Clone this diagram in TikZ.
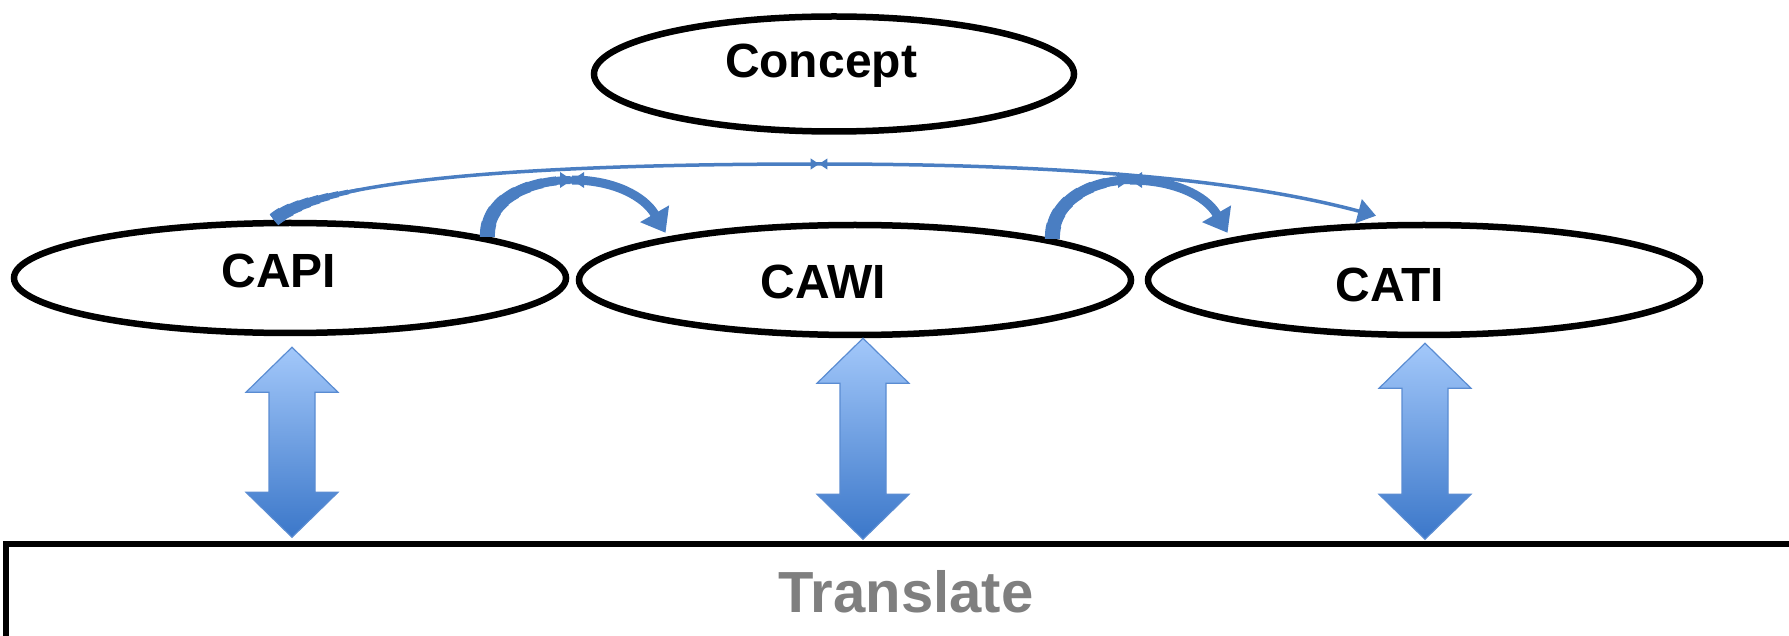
\documentclass[tikz,border=0pt]{standalone}
\usepackage{fontspec}
\setmainfont{Liberation Sans}
\usetikzlibrary{shapes.geometric,arrows.meta,calc,positioning}
\definecolor{flowblue}{HTML}{4A7EC2}
\definecolor{arrowtop}{HTML}{A3C8FA}
\definecolor{arrowbot}{HTML}{3B77C9}
\definecolor{arrowedge}{HTML}{5A8CD2}
\definecolor{labelgray}{HTML}{7F7F7F}

\begin{document}
\begin{tikzpicture}[x=1pt, y=-1pt,
  mode/.style={draw, ellipse, line width=6.5pt, inner sep=0pt, minimum width=552pt, minimum height=110pt},
  lbl/.style={font=\fontsize{48}{52}\selectfont\bfseries, inner sep=0pt, anchor=base},
  bar/.style={draw, line width=6.5pt, minimum width=1800pt, minimum height=96pt, text=labelgray, font=\fontsize{58}{62}\selectfont\bfseries},
  link/.style={draw=flowblue, line width=9pt},
  hair/.style={draw=flowblue, line width=3.5pt},
  headed/.style={-{Triangle[width=32pt,length=22pt]}},
  bow/.style={fill=flowblue},
  updown/.style={top color=arrowtop, bottom color=arrowbot, draw=arrowedge, line width=1.2pt, line join=miter}
]
\useasboundingbox (0,0) rectangle (1789,636);
\clip (0,0) rectangle (1789,636);

% modes and the shared concept
\node[mode, minimum width=480pt, minimum height=115pt] (concept) at (834,74) {};
\node[mode] (capi) at (290,278) {};
\node[mode] (cawi) at (855,280) {};
\node[mode] (cati) at (1424,280) {};
\node[lbl] (concept-l) at (821,78) {Concept};
\node[lbl] (capi-l) at (279,288) {CAPI};
\node[lbl] (cawi-l) at (823,299) {CAWI};
\node[lbl] (cati-l) at (1390,302) {CATI};

\node[bar] (trans) at (906,592) {Translate};

% up/down arrows to the translation layer
\foreach \m/\dx/\dy/\len in {capi/2/11/100,cawi/8/0/111,cati/1/5/106}
  \path[updown] ($(\m.south)+(\dx,\dy)$) -- ++(46,45) -- ++(-23,0) -- ++(0,\len) -- ++(23,0)
    -- ++(-46,45) -- ++(-46,-45) -- ++(23,0) -- ++(0,-\len) -- ++(-23,0) -- cycle;

% curved links between modes
\coordinate (k1) at (572,180);
\coordinate (k2) at (1130,180);
\coordinate (k0) at (819,164);
\coordinate (capi-top) at ($(capi.north)+(-16,0)$);
\coordinate (cati-top) at ($(cati.north)+(-48,-6)$);
\draw[hair] (capi-top) to[out=40,in=180,out looseness=0.3,in looseness=1.3] (k0);
% tails get wider towards the ellipse they leave
\foreach \i in {0,...,8} {
  \draw[link, line width=7pt+\i*1pt, dash pattern=on {(9-\i)*14pt} off 2000pt]
    (capi.north east) to[out=92,in=180] (k1);
  \draw[link, line width=7pt+\i*1pt, dash pattern=on {(9-\i)*14pt} off 2000pt]
    (cawi.north east) to[out=92,in=180] (k2);
  \draw[hair, line width=3.5pt+\i*1.3pt, dash pattern=on {(9-\i)*10pt} off 2000pt]
    (capi-top) to[out=40,in=180,out looseness=0.3,in looseness=1.3] (k0);
}
\draw[link,headed] (k1) to[out=0,in=120] ($(cawi.north west)+(8,-6)$);
\draw[link,headed] (k2) to[out=0,in=120] ($(cati.north west)+(1,-6)$);
\draw[hair,-{Triangle[width=24pt,length=18pt]}] (k0) to[out=0,in=165,out looseness=1.2,in looseness=0.6] (cati-top);
\foreach \k/\s in {k1/1,k2/1,k0/0.7}
  \fill[bow] (\k) -- ++(-12*\s,-8*\s) -- ++(0,16*\s) -- cycle
             (\k) -- ++(12*\s,-8*\s) -- ++(0,16*\s) -- cycle;
\end{tikzpicture}
\end{document}
